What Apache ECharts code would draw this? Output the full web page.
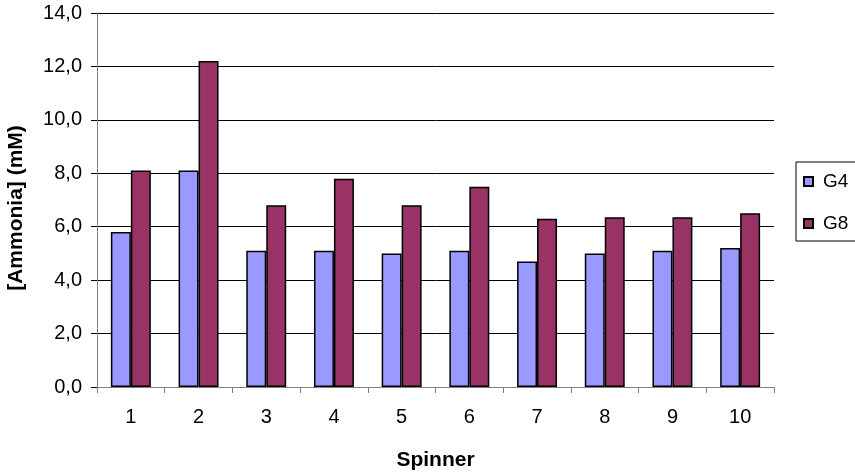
<!DOCTYPE html>
<html><head><meta charset="utf-8">
<script src="https://cdn.jsdelivr.net/npm/echarts@6/dist/echarts.min.js"></script>
<style>html,body{margin:0;padding:0;background:#fff}#c{width:855px;height:472px}</style>
</head><body><div id="c"></div>
<script>
const categories = ['1','2','3','4','5','6','7','8','9','10'];
const g4 = [5.8, 8.1, 5.1, 5.1, 5.0, 5.1, 4.7, 5.0, 5.1, 5.2];
const g8 = [8.1, 12.2, 6.8, 7.8, 6.8, 7.5, 6.3, 6.35, 6.35, 6.5];
const seriesNames = ['G4', 'G8'];
const font = 'Liberation Sans, Arial, sans-serif';
const chart = echarts.init(document.getElementById('c'), null, {renderer: 'canvas'});
chart.setOption({
  animation: false,
  backgroundColor: '#fff',
  grid: {left: 97, right: 81, top: 13, bottom: 85, containLabel: false, outerBoundsMode: 'none'},
  legend: {
    orient: 'vertical', left: 796, top: 162,
    data: seriesNames,
    icon: 'rect', itemWidth: 9, itemHeight: 9, itemGap: 23,
    borderColor: '#000', borderWidth: 1, padding: [10, 20, 8, 7],
    textStyle: {fontFamily: font, fontSize: 19, color: '#000', padding: [0,0,0,5]}
  },
  xAxis: {
    type: 'category', data: categories, boundaryGap: true,
    name: 'Spinner', nameLocation: 'middle', nameGap: 63,
    nameTextStyle: {fontFamily: font, fontSize: 21, fontWeight: 'bold', color: '#000'},
    axisLine: {lineStyle: {color: '#808080', width: 1}},
    axisTick: {show: true, alignWithLabel: false, length: 6, lineStyle: {color: '#808080'}},
    axisLabel: {fontFamily: font, fontSize: 20, color: '#000', margin: 20}
  },
  yAxis: {
    type: 'value', min: 0, max: 14, interval: 2,
    name: '[Ammonia] (mM)', nameLocation: 'middle', nameGap: 70, nameRotate: 90,
    nameTextStyle: {fontFamily: font, fontSize: 21, fontWeight: 'bold', color: '#000', padding: [0, 16, 0, 0]},
    axisLine: {show: true, lineStyle: {color: '#808080', width: 1}},
    axisTick: {show: true, length: 6, lineStyle: {color: '#000'}},
    axisLabel: {fontFamily: font, fontSize: 20, color: '#000', margin: 15,
      formatter: v => v.toFixed(1).replace('.', ',')},
    splitLine: {show: true, lineStyle: {color: '#000', width: 1}}
  },
  series: [
    {name: seriesNames[0], type: 'bar', data: g4, barGap: '0%', barCategoryGap: '41%',
     itemStyle: {color: '#9999FF', borderColor: '#000', borderWidth: 1.5}},
    {name: seriesNames[1], type: 'bar', data: g8, barGap: '0%', barCategoryGap: '41%',
     itemStyle: {color: '#993366', borderColor: '#000', borderWidth: 1.5}}
  ]
});
</script></body></html>
